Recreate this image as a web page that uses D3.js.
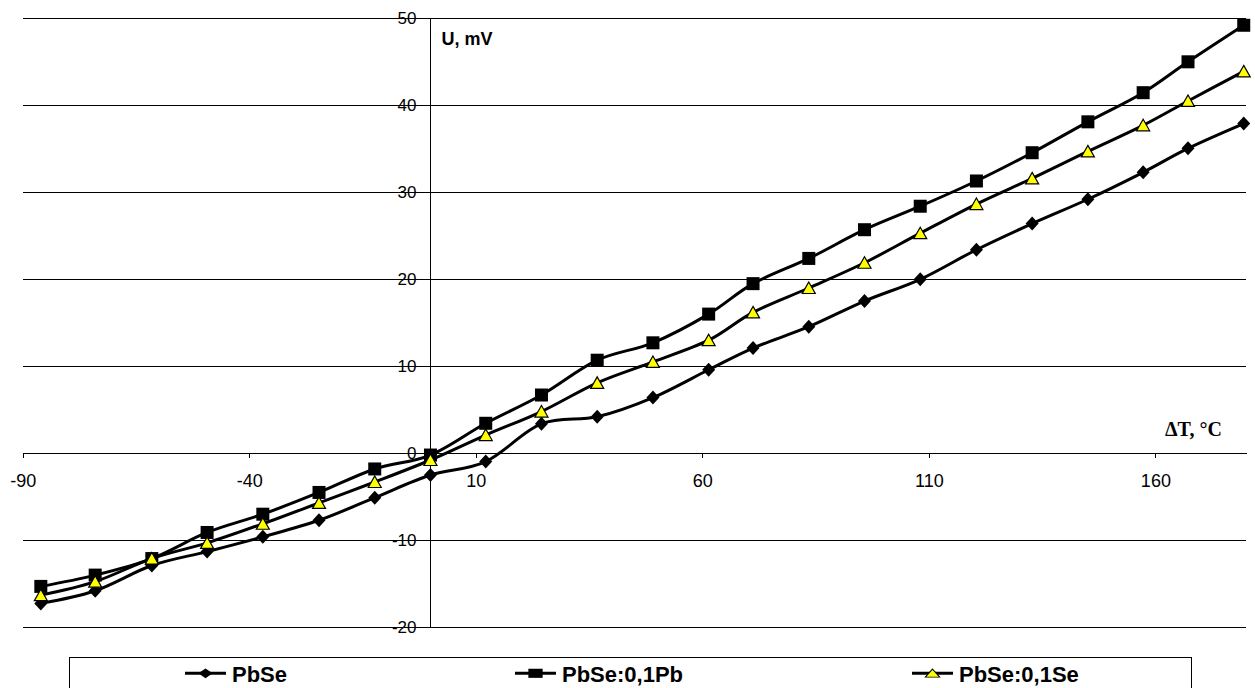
<!DOCTYPE html>
<html>
<head>
<meta charset="utf-8">
<script src="https://cdn.jsdelivr.net/npm/d3@7"></script>
<style>
body { margin:0; background:#fff; }
svg { display:block; }
</style>
</head>
<body>
<div id="container"></div>
<script>
// temperature difference, deg C
var temps = [-86, -74, -61.5, -49.3, -37, -24.6, -12.3, 0, 12.2, 24.5, 36.8, 49.1, 61.4, 71.2, 83.5, 95.8, 108.1, 120.5, 132.8, 145.1, 157.3, 167.2, 179.5]
// thermo-EMF, mV
var pbse = [-17.25, -15.8, -12.9, -11.3, -9.6, -7.7, -5.1, -2.5, -0.95, 3.4, 4.2, 6.4, 9.6, 12.1, 14.55, 17.5, 20.0, 23.4, 26.4, 29.2, 32.3, 35.05, 37.9]
var pbsePb = [-15.3, -14.0, -12.1, -9.1, -7.0, -4.5, -1.8, -0.2, 3.45, 6.7, 10.7, 12.7, 16.0, 19.5, 22.4, 25.7, 28.4, 31.3, 34.55, 38.1, 41.45, 45.0, 49.2]
var pbseSe = [-16.3, -14.75, -12.1, -10.3, -8.1, -5.7, -3.3, -0.77, 2.1, 4.8, 8.1, 10.5, 13.0, 16.2, 19.0, 21.9, 25.3, 28.65, 31.6, 34.7, 37.7, 40.5, 43.9]
var xTicks = [-90, -40, 10, 60, 110, 160]
var yTicks = [-20, -10, 0, 10, 20, 30, 40, 50]
var seriesNames = ['PbSe', 'PbSe:0,1Pb', 'PbSe:0,1Se']

var width = 1255, height = 688
var font = '"Liberation Sans", Arial, sans-serif'
// plain hyphen for negatives, like the original
var plain = function(d) { return String(d) }

var svg = d3.select('#container').append('svg')
	.attr('width', width).attr('height', height)
	.style('font-family', font)

var x = d3.scaleLinear().domain([-90, 180]).range([22.7, 1246])
var y = d3.scaleLinear().domain([-20, 50]).range([627.3, 18.3])

// marker shapes
var markers = {
	diamond: function(g) {
		g.append('path').attr('d', 'M0,-7L6.5,0L0,7L-6.5,0Z').attr('fill', '#000')
	},
	square: function(g) {
		g.append('rect').attr('x', -6.5).attr('y', -6.5).attr('width', 13).attr('height', 13).attr('fill', '#000')
	},
	triangle: function(g) {
		g.append('path').attr('d', 'M0,-6L6.5,5.5L-6.5,5.5Z').attr('fill', '#ffff00')
			.attr('stroke', '#000').attr('stroke-width', 1.2).attr('stroke-linejoin', 'miter')
	}
}

var series = [
	{name: seriesNames[0], values: pbse, marker: 'diamond'},
	{name: seriesNames[1], values: pbsePb, marker: 'square'},
	{name: seriesNames[2], values: pbseSe, marker: 'triangle'}
]

// horizontal grid
svg.append('g')
	.attr('transform', 'translate(' + x(-90) + ',0)')
	.call(d3.axisLeft(y).tickValues(yTicks).tickSize(-(x(180) - x(-90))).tickFormat(''))
	.call(function(g) {
		g.select('.domain').remove()
		g.selectAll('line').attr('stroke', '#000').attr('shape-rendering', 'crispEdges')
	})

// y axis through 0
svg.append('g')
	.attr('transform', 'translate(' + x(0) + ',0)')
	.call(d3.axisLeft(y).tickValues(yTicks).tickFormat(plain).tickSize(6).tickSizeOuter(0).tickPadding(8))
	.call(function(g) {
		g.selectAll('line, .domain').attr('stroke', '#000').attr('shape-rendering', 'crispEdges')
		g.selectAll('text').attr('font-size', 17).attr('font-family', font).attr('fill', '#000')
	})

// x axis through 0
svg.append('g')
	.attr('transform', 'translate(0,' + y(0) + ')')
	.call(d3.axisBottom(x).tickValues(xTicks).tickFormat(plain).tickSize(5).tickSizeOuter(0))
	.call(function(g) {
		g.selectAll('line, .domain').attr('stroke', '#000').attr('shape-rendering', 'crispEdges')
		g.selectAll('text').attr('y', 33.4).attr('dy', null)
			.attr('font-size', 18).attr('font-family', font).attr('fill', '#000')
	})

// axis titles
svg.append('text').attr('x', 441.5).attr('y', 45)
	.attr('font-size', 18).attr('font-weight', 'bold').text('U, mV')
svg.append('text').attr('x', 1165).attr('y', 436)
	.attr('font-family', '"Liberation Serif", "Times New Roman", serif')
	.attr('font-size', 20).attr('font-weight', 'bold').text('\u0394T, \u00B0C')

// series lines
var line = d3.line()
	.x(function(d, i) { return x(temps[i]) })
	.y(function(d) { return y(d) })
	.curve(d3.curveCardinal.tension(0))

series.forEach(function(s) {
	svg.append('path').datum(s.values)
		.attr('d', line)
		.attr('fill', 'none').attr('stroke', '#000').attr('stroke-width', 3)
		.attr('stroke-linejoin', 'round')
})

series.forEach(function(s) {
	svg.append('g').selectAll('g').data(s.values).join('g')
		.attr('transform', function(d, i) { return 'translate(' + x(temps[i]) + ',' + y(d) + ')' })
		.each(function() { markers[s.marker](d3.select(this)) })
})

// legend
var legendX = [185, 515, 912]
var legend = svg.append('g')
legend.append('rect').attr('x', 69.5).attr('y', 657.5).attr('width', 1122).attr('height', 40)
	.attr('fill', '#fff').attr('stroke', '#000').attr('stroke-width', 1)

series.forEach(function(s, i) {
	var item = legend.append('g').attr('transform', 'translate(' + legendX[i] + ',673.3)')
	item.append('line').attr('x1', 0).attr('x2', 41).attr('y1', 0).attr('y2', 0)
		.attr('stroke', '#000').attr('stroke-width', 3)
	var m = item.append('g').attr('transform', 'translate(20.5,0) scale(1.1,0.7)')
	markers[s.marker](m)
	item.append('text').attr('x', 47).attr('y', 8.4)
		.attr('font-size', 22).attr('font-weight', 'bold').text(s.name)
})
</script>
</body>
</html>
